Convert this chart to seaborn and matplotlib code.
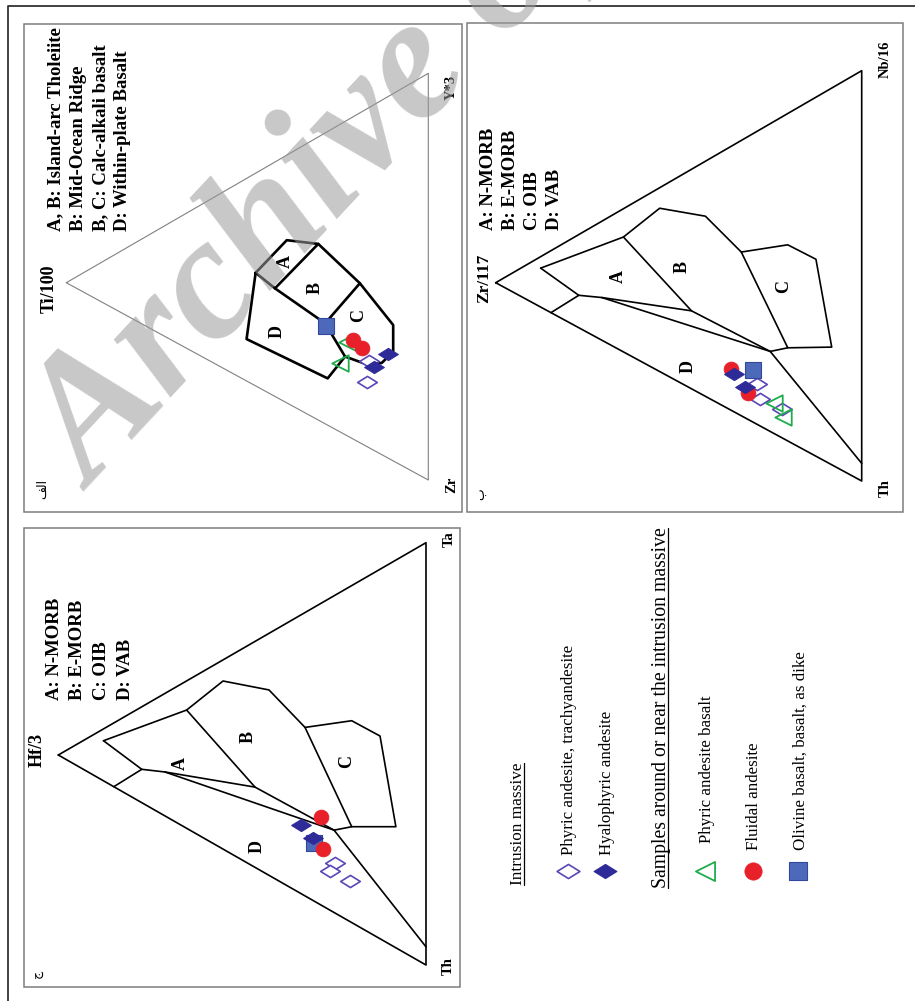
import numpy as np
import matplotlib
matplotlib.use("Agg")
import matplotlib.pyplot as plt
from matplotlib.path import Path
from matplotlib.patches import Rectangle
import seaborn as sns

sns.set_theme(style="white")
plt.rcParams["font.family"] = ["Liberation Serif", "DejaVu Sans"]

# ---------------------------------------------------------------------------
# Sample compositions, percent of the three apices of each diagram
# ---------------------------------------------------------------------------
# Ti/100 - Zr - Y*3   (order: Ti/100, Zr, Y*3)
tzy_phyric_andesite = [[17.0, 67.1, 15.9], [16.4, 62.3, 21.3]]
tzy_hyalophyric = [[11.1, 63.3, 25.6], [15.0, 64.5, 20.5]]
tzy_andesite_basalt = [[22.5, 54.4, 23.1], [24.4, 58.7, 16.9]]
tzy_fluidal = [[20.8, 54.9, 24.3], [18.3, 58.1, 23.6]]
tzy_olivine_basalt = [[28.3, 47.6, 24.2]]

# Zr/117 - Nb/16 - Th   (order: Zr/117, Nb/16, Th)
znt_phyric_andesite = [[28.5, 9.9, 61.6], [27.8, 6.6, 65.7], [21.9, 6.9, 71.3]]
znt_hyalophyric = [[34.9, 9.2, 55.9], [31.9, 7.6, 60.5]]
znt_andesite_basalt = [[24.0, 7.4, 68.6], [21.5, 5.2, 73.3]]
znt_fluidal = [[35.7, 10.1, 54.2], [31.0, 6.4, 62.6]]
znt_olivine_basalt = [[29.6, 12.7, 57.6]]

# Hf/3 - Ta - Th   (order: Hf/3, Ta, Th)
htt_phyric_andesite = [[24.7, 11.9, 63.3], [26.2, 9.1, 64.6], [20.7, 9.7, 69.6]]
htt_hyalophyric = [[34.1, 16.2, 49.7], [30.8, 14.7, 54.5]]
htt_andesite_basalt = []
htt_fluidal = [[28.5, 21.0, 50.6], [28.1, 13.5, 58.4]]
htt_olivine_basalt = [[30.5, 13.8, 55.8]]

# ---------------------------------------------------------------------------
# Field boundaries
# ---------------------------------------------------------------------------
# Pearce & Cann Ti-Zr-Y nodes
pc_nodes = {
    "a": [47.7, 24.5, 27.8], "b": [39.1, 20.9, 40.0], "c": [30.4, 26.3, 43.3],
    "d": [18.9, 41.9, 39.2], "e": [9.7, 56.9, 33.4], "f": [9.7, 63.5, 26.8],
    "g": [12.9, 64.6, 22.5], "h": [18.0, 61.9, 20.0], "r": [23.0, 57.8, 19.2],
    "sq": [28.5, 46.8, 24.7], "ab": [42.4, 31.1, 26.6],
    "dl": [50.2, 39.5, 10.3], "dr": [27.8, 60.7, 11.5],
}
pc_lines = [
    ["a", "b", "c", "d", "e", "f", "g", "h", "r", "dr", "dl", "a"],
    ["a", "ab", "sq", "r"],
    ["c", "ab"],
    ["d", "sq"],
]
pc_field_labels = {"A": [39.6, 25.9, 34.5], "B": [31.3, 36.7, 32.0],
                   "C": [19.3, 49.5, 31.2], "D": [41.9, 42.0, 16.2]}

# Wood Th-Hf-Ta / Th-Zr-Nb nodes (apex, high-field-strength corner, Th)
wood_nodes = {
    "a_left": [87.8, 9.5, 2.8], "ab_top": [65.1, 28.0, 6.9],
    "b1": [55.2, 39.8, 5.0], "b2": [42.7, 43.9, 13.4], "bc_top": [32.9, 39.9, 27.2],
    "c1": [20.2, 47.8, 32.0], "c2": [12.5, 48.0, 39.5], "c3": [8.2, 28.7, 63.2],
    "c4": [20.2, 22.7, 57.1], "q": [25.0, 19.5, 55.5], "d_end": [0.0, 4.3, 95.7],
    "ab_tip": [46.5, 19.0, 34.5], "j": [77.3, 7.9, 14.8], "s": [71.0, 10.4, 18.6],
    "edge": [84.9, 0.0, 15.1],
}
wood_lines = [
    ["a_left", "ab_top", "b1", "b2", "bc_top", "c1", "c2", "c3", "c4", "q", "d_end"],
    ["ab_top", "ab_tip"],
    ["bc_top", "c4"],
    ["a_left", "j", "edge"],
    ["j", "s", "ab_tip", "q"],
    ["s", "q"],
]
znt_field_labels = {"A": [66.5, 17.7, 15.8], "B": [49.2, 28.5, 22.4],
                    "C": [21.4, 37.0, 41.6], "D": [47.4, 5.0, 47.7]}
htt_field_labels = {"A": [66.9, 14.5, 18.6], "B": [48.3, 30.0, 21.6],
                    "C": [21.6, 37.4, 41.0], "D": [46.0, 5.1, 48.9]}

# ---------------------------------------------------------------------------
# Page layout (pixel space of the page, y downwards)
# ---------------------------------------------------------------------------
W, H = 915, 1001
verts_tzy = [(66.3, 282.7), (428.3, 480.0), (428.3, 73.3)]
verts_znt = [(495.7, 282.7), (861.7, 70.7), (861.7, 481.0)]
verts_htt = [(58.3, 755.0), (426.0, 542.7), (426.0, 965.0)]

PURPLE = "#5a46b6"
NAVY = "#2e2b98"
GREEN = "#1fad4c"
RED = "#e8202a"
BLUE = "#4d69b9"
BLUE_EDGE = "#33489c"

WIDE_DIAMOND = Path([(-1, 0), (0, 0.62), (1, 0), (0, -0.62), (-1, 0)],
                    [Path.MOVETO, Path.LINETO, Path.LINETO, Path.LINETO, Path.CLOSEPOLY])

fig = plt.figure(figsize=(W / 100, H / 100), dpi=100)
ax = fig.add_axes([0, 0, 1, 1])


def to_xy(comps, verts):
    c = np.asarray(comps, float).reshape(-1, 3)
    w = c / c.sum(axis=1, keepdims=True)
    xy = w @ np.asarray(verts, float)
    return xy[:, 0], xy[:, 1]


def draw_line(comps, verts, lw, color="black", z=2):
    x, y = to_xy(comps, verts)
    sns.lineplot(x=x, y=y, sort=False, estimator=None, ax=ax, color=color,
                 lw=lw, legend=False, zorder=z)


def draw_fields(nodes, lines, verts, lw):
    for seq in lines:
        draw_line([nodes[k] for k in seq], verts, lw)


def draw_samples(comps, verts, style):
    if len(comps) == 0:
        return
    x, y = to_xy(comps, verts)
    sns.scatterplot(x=x, y=y, ax=ax, legend=False, **style)


STYLES = {
    "phyric": dict(marker=WIDE_DIAMOND, s=200, color="white", edgecolor=PURPLE, linewidth=1.2, zorder=5),
    "basalt": dict(marker="<", s=140, color=(1, 1, 1, 0), edgecolor=GREEN, linewidth=1.3, zorder=6),
    "olivine": dict(marker="s", s=120, color=BLUE, edgecolor=BLUE_EDGE, linewidth=0.8, zorder=7),
    "fluidal": dict(marker="o", s=115, color=RED, edgecolor=RED, linewidth=0.5, zorder=8),
    "hyalo": dict(marker=WIDE_DIAMOND, s=200, color=NAVY, edgecolor=NAVY, linewidth=0.8, zorder=9),
}


def vtext(x, y, s, size, weight="bold", ha="left", va="baseline", **kw):
    return ax.text(x, y, s, rotation=90, rotation_mode="anchor", ha=ha, va=va,
                   fontsize=size, fontweight=weight, color="black", **kw)


# frame of the page and of the three panels
ax.plot([8, 8, W], [H, 6, 6], color="#333333", lw=1.3, zorder=1)
for (x0, y0, x1, y1) in [(24, 24, 461.7, 512.3), (467.3, 23.3, 903.3, 511.7), (24, 527.7, 460, 986.7)]:
    ax.add_patch(Rectangle((x0, y0), x1 - x0, y1 - y0, fill=False, ec="#7d7d7d", lw=1.1, zorder=1))

corners = [[100, 0, 0], [0, 100, 0], [0, 0, 100], [100, 0, 0]]

# ----- Ti/100 - Zr - Y*3 -----
draw_line(corners, verts_tzy, 0.8, color="#808080")
draw_fields(pc_nodes, pc_lines, verts_tzy, 1.9)
for lab, comp in pc_field_labels.items():
    x, y = to_xy(comp, verts_tzy)
    vtext(x[0], y[0], lab, 13, ha="center", va="center")
for comps, key in [(tzy_phyric_andesite, "phyric"), (tzy_andesite_basalt, "basalt"),
                   (tzy_olivine_basalt, "olivine"), (tzy_fluidal, "fluidal"),
                   (tzy_hyalophyric, "hyalo")]:
    draw_samples(comps, verts_tzy, STYLES[key])
vtext(53.3, 313, "Ti/100", 13)
vtext(455, 100, "Y*3", 10.5)
vtext(455, 493, "Zr", 10.5)
vtext(46.5, 499, "\ufed2\ufedf\ufe8d", 9, weight="normal")
for bx, line in zip([60.5, 82.8, 105.1, 127.4],
                    ["A, B: Island-arc Tholeiite", "B: Mid-Ocean Ridge",
                     "B, C: Calc-alkali basalt", "D: Within-plate Basalt"]):
    vtext(bx, 231, line, 13.5)

# ----- Zr/117 - Nb/16 - Th -----
draw_line(corners, verts_znt, 1.2)
draw_fields(wood_nodes, wood_lines, verts_znt, 1.2)
for lab, comp in znt_field_labels.items():
    x, y = to_xy(comp, verts_znt)
    vtext(x[0], y[0], lab, 13, ha="center", va="center")
for comps, key in [(znt_phyric_andesite, "phyric"), (znt_andesite_basalt, "basalt"),
                   (znt_olivine_basalt, "olivine"), (znt_fluidal, "fluidal"),
                   (znt_hyalophyric, "hyalo")]:
    draw_samples(comps, verts_znt, STYLES[key])
vtext(488.3, 303, "Zr/117", 12.5)
vtext(888.3, 78.3, "Nb/16", 10.5)
vtext(888.3, 496.7, "Th", 10.5)
vtext(484, 500, "\u0628", 9, weight="normal")
for bx, line in zip([492.7, 514.8, 537.0, 559.3],
                    ["A: N-MORB", "B: E-MORB", "C: OIB", "D: VAB"]):
    vtext(bx, 230, line, 13.5)

# ----- Hf/3 - Ta - Th -----
draw_line(corners, verts_htt, 1.2)
draw_fields(wood_nodes, wood_lines, verts_htt, 1.2)
for lab, comp in htt_field_labels.items():
    x, y = to_xy(comp, verts_htt)
    vtext(x[0], y[0], lab, 13, ha="center", va="center")
for comps, key in [(htt_phyric_andesite, "phyric"), (htt_andesite_basalt, "basalt"),
                   (htt_olivine_basalt, "olivine"), (htt_fluidal, "fluidal"),
                   (htt_hyalophyric, "hyalo")]:
    draw_samples(comps, verts_htt, STYLES[key])
vtext(41.7, 767, "Hf/3", 13)
vtext(452.7, 546.7, "Ta", 10.5)
vtext(451.7, 975, "Th", 10.5)
vtext(41, 978, "\u062c", 9, weight="normal")
for bx, line in zip([59.3, 82.0, 106.0, 130.0],
                    ["A: N-MORB", "B: E-MORB", "C: OIB", "D: VAB"]):
    vtext(bx, 700, line, 13.5)

# ----- key -----
headings = []
headings.append(vtext(521.7, 885, "Intrusion massive", 12.4, weight="normal"))
headings.append(vtext(665.7, 888.3, "Samples around or near the intrusion massive", 14.2, weight="normal"))
key_rows = [
    ("phyric", 568.3, 573.3, 855, "Phyric andesite, trachyandesite"),
    ("hyalo", 605.0, 610.7, 855, "Hyalophyric andesite"),
    ("basalt", 705.0, 711.0, 843.3, "Phyric andesite basalt"),
    ("fluidal", 753.3, 758.3, 850, "Fluidal andesite"),
    ("olivine", 798.3, 805.0, 850, "Olivine basalt, basalt, as dike"),
]
for key, mx, tx, ty, label in key_rows:
    st = dict(STYLES[key])
    st["s"] = st["s"] * 1.35
    sns.scatterplot(x=[mx], y=[870.5], ax=ax, legend=False, **st)
    vtext(tx, ty, label, 12.2, weight="normal")

# watermark
ax.text(92, 492, "Archive of SID", rotation=47, rotation_mode="anchor", ha="left",
        va="baseline", fontsize=126, fontweight="bold", fontstyle="italic",
        color="#9a9a9a", alpha=0.55, zorder=20, clip_on=True)

ax.set_xlim(0, W)
ax.set_ylim(H, 0)
ax.set_axis_off()

# underline the key headings
fig.canvas.draw()
renderer = fig.canvas.get_renderer()
inv = ax.transData.inverted()
for t in headings:
    bb = t.get_window_extent(renderer)
    (x0, y0), (x1, y1) = inv.transform([[bb.x0, bb.y0], [bb.x1, bb.y1]])
    bx = t.get_position()[0] + 2.0
    ax.plot([bx, bx], [max(y0, y1), min(y0, y1)], color="black", lw=0.9, zorder=3)

fig.savefig("out.png", dpi=100)
